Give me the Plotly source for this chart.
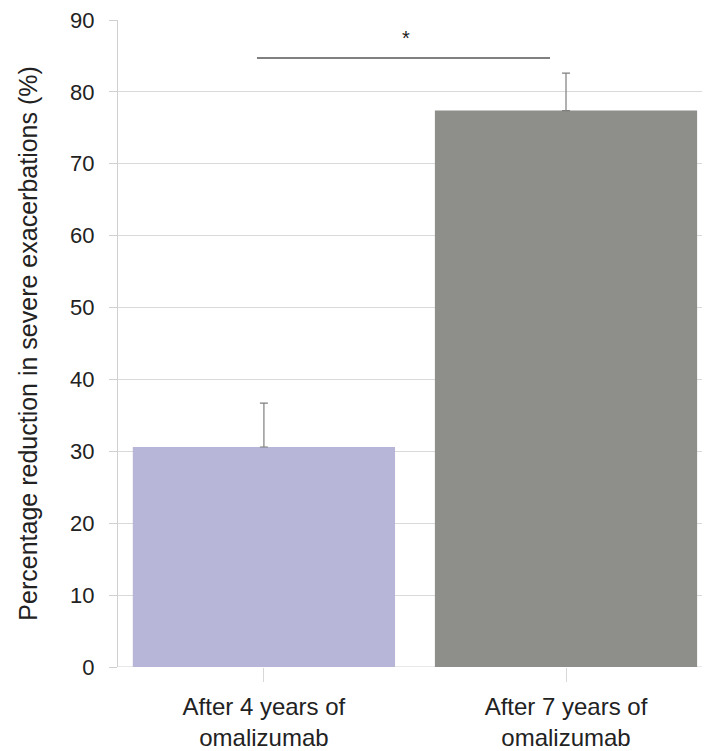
import plotly.graph_objects as go

categories = ["After 4 years of<br>omalizumab", "After 7 years of<br>omalizumab"]
values = [30.6, 77.4]
err_plus = [6.1, 5.2]
bar_colors = ["#b7b5d8", "#8e8e8a"]
y_ticks = [0, 10, 20, 30, 40, 50, 60, 70, 80, 90]
y_title = "Percentage reduction in severe exacerbations (%)"
sig_y = 84.7
sig_label = "*"

x_pos = [0, 1]
FONT = "Liberation Sans, Arial, sans-serif"

fig = go.Figure()
fig.add_trace(go.Bar(
    x=x_pos, y=values, width=0.868,
    marker=dict(color=bar_colors, line=dict(width=0)),
    error_y=dict(type="data", symmetric=False, array=err_plus,
                 arrayminus=[0, 0], color="#7f7f7f", thickness=1.2, width=4),
    showlegend=False,
))

fig.add_shape(type="line", xref="x", yref="y", x0=-0.023, x1=0.947,
              y0=sig_y, y1=sig_y, line=dict(color="#808080", width=2))
fig.add_annotation(x=0.47, y=sig_y + 1.0, xref="x", yref="y", text=sig_label,
                   showarrow=False, font=dict(size=20, color="#222"), yanchor="bottom")
fig.add_annotation(x=-0.154, y=0.5, xref="paper", yref="paper", text=y_title,
                   textangle=-90, showarrow=False, xanchor="center", yanchor="middle",
                   font=dict(size=25, color="#222", family=FONT))

fig.update_layout(
    width=710, height=751,
    margin=dict(l=110, r=10, t=12, b=92),
    plot_bgcolor="white", paper_bgcolor="white",
    font=dict(family=FONT, size=22, color="#222"),
    xaxis=dict(range=[-0.483, 1.47], tickmode="array", tickvals=x_pos,
               ticktext=categories, showgrid=False, zeroline=False,
               showline=False, ticks="outside", ticklen=14, tickcolor="#d8d8d8",
               ticklabelstandoff=4, ticklabeloverflow="allow",
               tickfont=dict(size=24, color="#222"), automargin=False),
    yaxis=dict(range=[0, 90], tickvals=y_ticks, showgrid=True,
               gridcolor="#d9d9d9", gridwidth=1, zeroline=False,
               showline=True, linecolor="#d0d0d0", ticks="outside",
               ticklen=8, tickcolor="#d0d0d0", ticklabelstandoff=10,
               ticklabeloverflow="allow",
               tickfont=dict(size=22, color="#222"), automargin=False),
)
fig.add_shape(type="line", xref="paper", yref="y", x0=0, x1=1, y0=0, y1=0,
              line=dict(color="#d0d0d0", width=1), layer="below")

fig.write_html("out.html")
